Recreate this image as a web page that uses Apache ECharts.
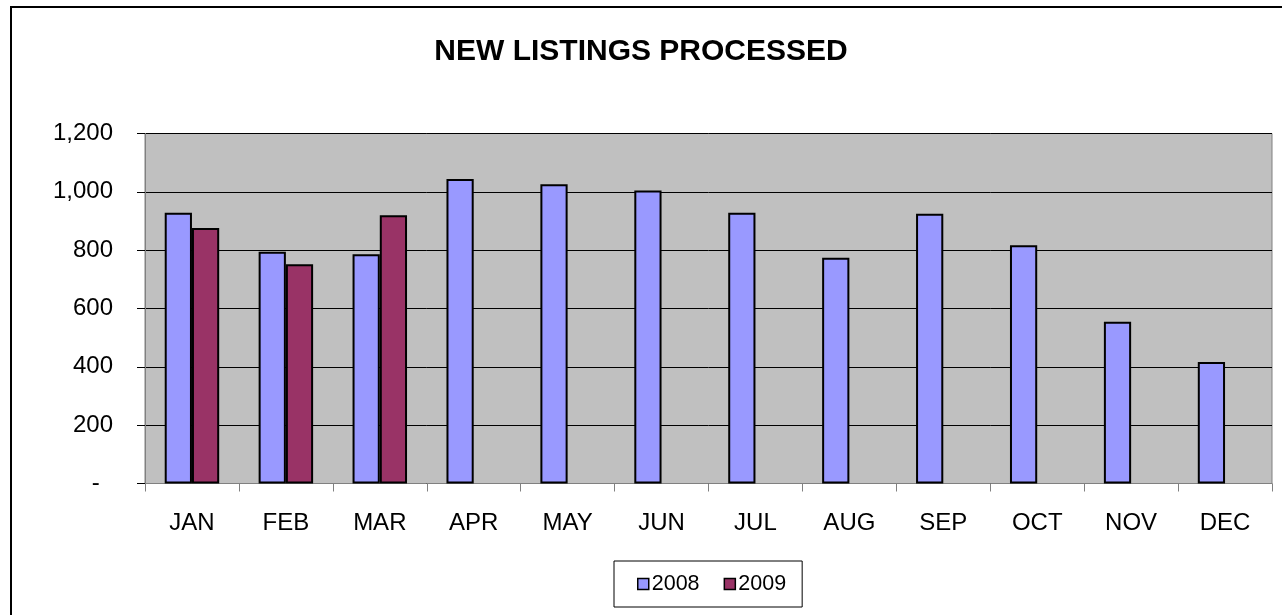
<!DOCTYPE html>
<html>
<head>
<meta charset="utf-8">
<script src="https://cdn.jsdelivr.net/npm/echarts@6/dist/echarts.min.js"></script>
<style>
  html, body { margin: 0; padding: 0; background: #fff; }
  #main { width: 1282px; height: 615px; }
</style>
</head>
<body>
<div id="main"></div>
<script>
// data
var months = ['JAN', 'FEB', 'MAR', 'APR', 'MAY', 'JUN', 'JUL', 'AUG', 'SEP', 'OCT', 'NOV', 'DEC'];
var listings2008 = [928, 795, 786, 1044, 1026, 1005, 928, 774, 925, 817, 555, 417];
var listings2009 = [876, 752, 920, null, null, null, null, null, null, null, null, null];
var yTicks = [0, 200, 400, 600, 800, 1000, 1200];

var myChart = echarts.init(document.getElementById('main'));

var font = 'Liberation Sans, Arial, sans-serif';

var option = {
    animation: false,
    backgroundColor: '#fff',
    textStyle: { fontFamily: font },
    title: {
        text: 'NEW LISTINGS PROCESSED',
        left: 'center',
        top: 32,
        textStyle: { fontSize: 30, fontWeight: 'bold', color: '#000', fontFamily: font }
    },
    graphic: [{
        type: 'rect',
        shape: { x: 11, y: 7, width: 1290, height: 640 },
        style: { fill: null, stroke: '#000', lineWidth: 2 },
        silent: true
    }],
    legend: {
        data: ['2008', '2009'],
        left: 614,
        top: 561,
        orient: 'horizontal',
        itemWidth: 11,
        itemHeight: 11,
        itemGap: 24,
        icon: 'rect',
        padding: [12, 16, 12, 23],
        borderColor: '#000',
        borderWidth: 1,
        itemStyle: { borderColor: '#000', borderWidth: 1.5 },
        textStyle: { fontSize: 21.5, color: '#000', fontFamily: font, padding: [0, 0, 0, -2] }
    },
    grid: {
        left: 145,
        right: 10,
        top: 133.5,
        bottom: 131.5,
        show: true,
        backgroundColor: '#c0c0c0',
        borderColor: '#808080',
        borderWidth: 1
    },
    xAxis: {
        type: 'category',
        data: months,
        axisLine: { lineStyle: { color: '#808080', width: 1 } },
        axisTick: { show: true, length: 8, inside: false, lineStyle: { color: '#808080' } },
        axisLabel: { fontSize: 24, color: '#000', margin: 28, fontFamily: font }
    },
    yAxis: {
        type: 'value',
        min: yTicks[0],
        max: yTicks[yTicks.length - 1],
        interval: 200,
        axisLine: { show: true, lineStyle: { color: '#808080', width: 1 } },
        axisTick: { show: true, length: 8, lineStyle: { color: '#000' } },
        splitLine: { lineStyle: { color: '#000', width: 1 } },
        axisLabel: {
            fontSize: 24,
            color: '#000',
            margin: 32,
            fontFamily: font,
            formatter: function (v) {
                if (v === 0) return '-  ';
                return v.toLocaleString('en-US');
            }
        }
    },
    series: [{
        name: '2008',
        type: 'bar',
        data: listings2008,
        barGap: '0%',
        barCategoryGap: '42%',
        itemStyle: { color: '#9999ff', borderColor: '#000', borderWidth: 2 }
    }, {
        name: '2009',
        type: 'bar',
        data: listings2009,
        barGap: '0%',
        barCategoryGap: '42%',
        itemStyle: { color: '#993366', borderColor: '#000', borderWidth: 2 }
    }]
};

myChart.setOption(option);
</script>
</body>
</html>
